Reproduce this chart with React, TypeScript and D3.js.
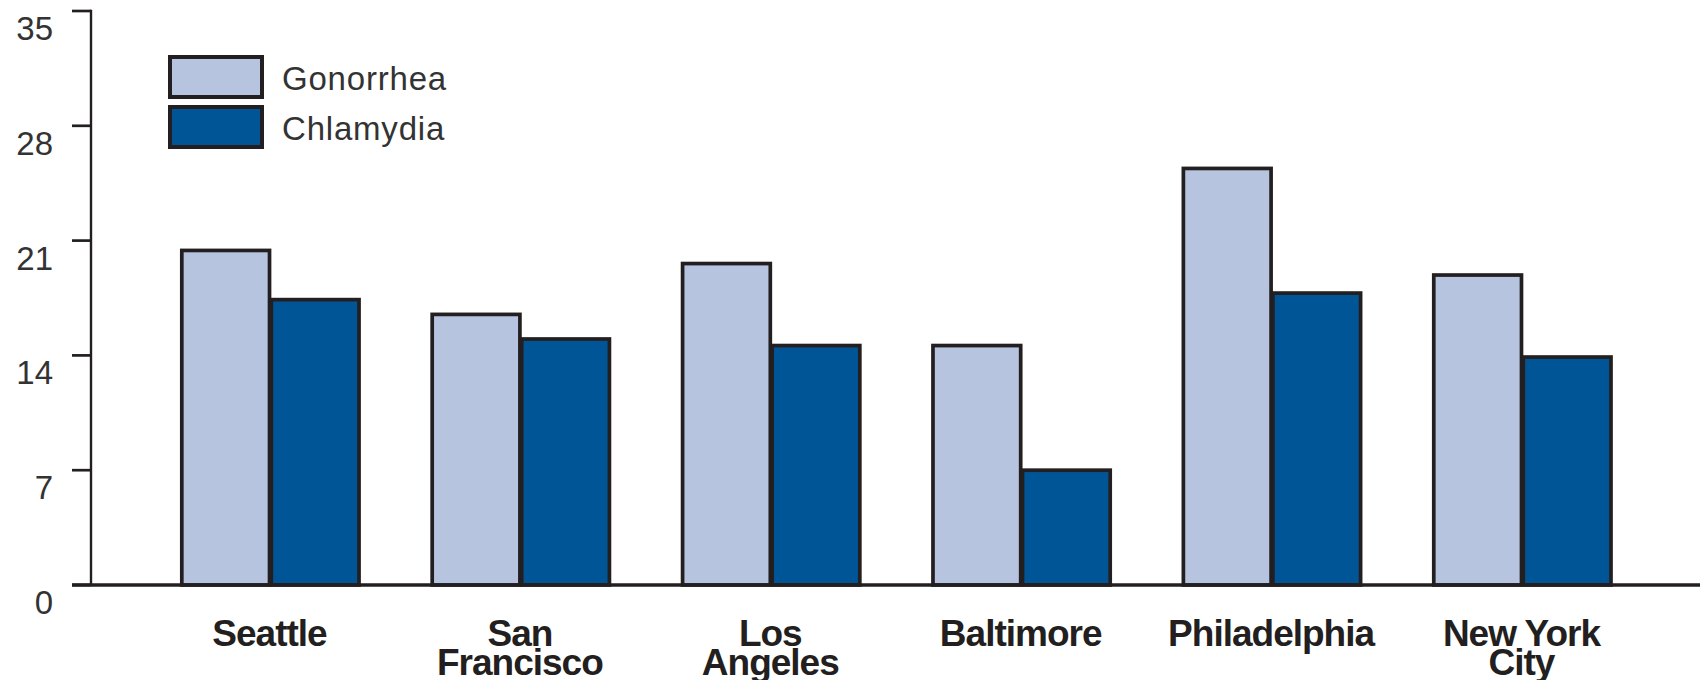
import React, { useEffect, useRef } from "react";
import * as d3 from "d3";

// Categories (multi-line labels) and series values
const cities = ["Seattle", "San Francisco", "Los Angeles", "Baltimore", "Philadelphia", "New York City"];
const cityLines = [["Seattle"], ["San", "Francisco"], ["Los", "Angeles"], ["Baltimore"], ["Philadelphia"], ["New York", "City"]];
const seriesNames = ["Gonorrhea", "Chlamydia"];
const gonorrhea = [20.4, 16.5, 19.6, 14.6, 25.4, 18.9];
const chlamydia = [17.4, 15.0, 14.6, 7.0, 17.8, 13.9];
const yTicks = [0, 7, 14, 21, 28, 35];

const colors: Record<string, string> = {
  Gonorrhea: "#b6c4df",
  Chlamydia: "#005596",
};
const ink = "#231f20";

const App: React.FC = () => {
  const svgRef = useRef<SVGSVGElement>(null);

  useEffect(() => {
    document.body.style.margin = "0";
    if (!svgRef.current) return;

    const svg = d3.select(svgRef.current);
    svg.selectAll("*").remove();

    const width = 1700;
    const height = 680;

    // Scales
    const x = d3
      .scaleBand<string>()
      .domain(cities)
      .range([180, 1611])
      .paddingInner(0.285)
      .paddingOuter(0);

    const xInner = d3
      .scaleBand<string>()
      .domain(seriesNames)
      .range([0, x.bandwidth()])
      .padding(0);

    const y = d3.scaleLinear().domain([0, 35]).range([585, 11]);

    const rows = cities.map((c, i) => ({
      city: c,
      values: [
        { key: "Gonorrhea", value: gonorrhea[i] },
        { key: "Chlamydia", value: chlamydia[i] },
      ],
    }));

    // Bars
    const groups = svg
      .selectAll(".group")
      .data(rows)
      .enter()
      .append("g")
      .attr("class", "group")
      .attr("transform", (d) => `translate(${x(d.city)},0)`);

    groups
      .selectAll("rect")
      .data((d) => d.values)
      .enter()
      .append("rect")
      .attr("x", (d) => (xInner(d.key) || 0) + 1.8)
      .attr("y", (d) => y(d.value))
      .attr("width", xInner.bandwidth() - 1.8)
      .attr("height", (d) => y(0) - y(d.value))
      .attr("fill", (d) => colors[d.key])
      .attr("stroke", ink)
      .attr("stroke-width", 3.7);

    // Y axis line + ticks
    svg
      .append("line")
      .attr("x1", 91)
      .attr("x2", 91)
      .attr("y1", y(35) - 1.3)
      .attr("y2", y(0))
      .attr("stroke", ink)
      .attr("stroke-width", 2.4);

    svg
      .selectAll(".ytick")
      .data(yTicks)
      .enter()
      .append("line")
      .attr("x1", 72)
      .attr("x2", 91)
      .attr("y1", (d) => y(d))
      .attr("y2", (d) => y(d))
      .attr("stroke", ink)
      .attr("stroke-width", 2.7);

    svg
      .selectAll(".ylabel")
      .data(yTicks)
      .enter()
      .append("text")
      .attr("x", 53)
      .attr("y", (d) => y(d) + 29)
      .attr("text-anchor", "end")
      .style("font-family", "'Liberation Sans', Arial, sans-serif")
      .style("font-size", "33px")
      .style("fill", "#333")
      .text((d) => String(d));

    // Baseline
    svg
      .append("line")
      .attr("x1", 72)
      .attr("x2", width)
      .attr("y1", y(0))
      .attr("y2", y(0))
      .attr("stroke", ink)
      .attr("stroke-width", 3.6);

    // X labels
    const xl = svg
      .selectAll(".xlabel")
      .data(cities)
      .enter()
      .append("text")
      .attr("class", "xlabel")
      .attr("text-anchor", "middle")
      .style("font-family", "'Liberation Sans', Arial, sans-serif")
      .style("font-weight", "bold")
      .style("font-size", "37px")
      .style("letter-spacing", "-1px")
      .style("fill", ink);

    xl.selectAll("tspan")
      .data((d, i) => cityLines[i].map((line) => ({ line, city: d })))
      .enter()
      .append("tspan")
      .attr("x", (d) => (x(d.city) || 0) + x.bandwidth() / 2)
      .attr("y", (d, i) => 646 + i * 29)
      .text((d) => d.line);

    // Legend
    const legend = svg.append("g");
    seriesNames.forEach((name, i) => {
      legend
        .append("rect")
        .attr("x", 170)
        .attr("y", 57 + i * 50)
        .attr("width", 92)
        .attr("height", 40)
        .attr("fill", colors[name])
        .attr("stroke", ink)
        .attr("stroke-width", 4);
      legend
        .append("text")
        .attr("x", 282)
        .attr("y", 90 + i * 50)
        .style("font-family", "'Liberation Sans', Arial, sans-serif")
        .style("font-size", "33px")
        .style("letter-spacing", "0.8px")
        .style("fill", "#333")
        .text(name);
    });

    svg.attr("width", width).attr("height", height);
  }, []);

  return <svg ref={svgRef} width={1700} height={680} style={{ display: "block", background: "#fff" }} />;
};

export default App;
